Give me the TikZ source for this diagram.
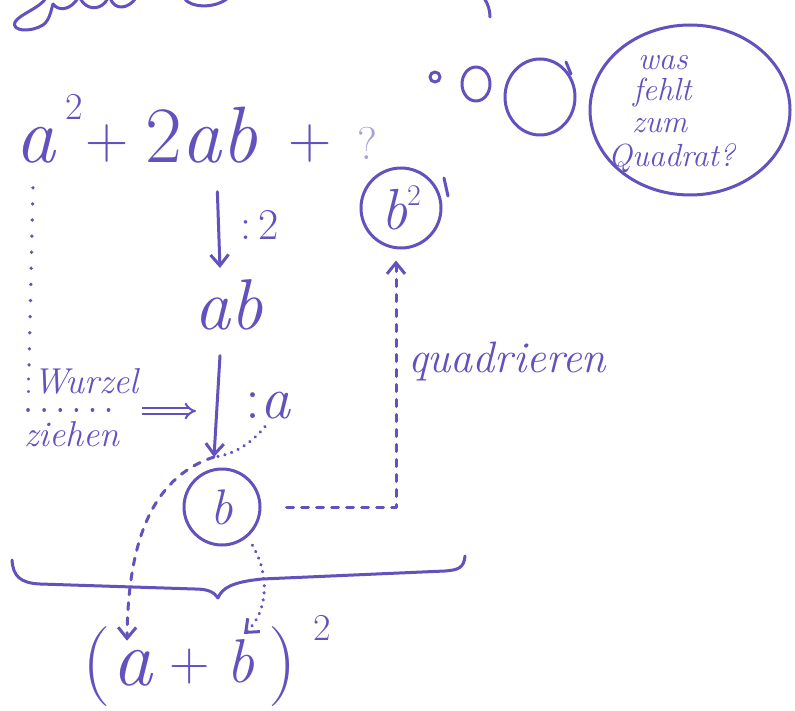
\documentclass[tikz,border=0pt]{standalone}
\usetikzlibrary{arrows.meta,calc}
\definecolor{ink}{RGB}{98,82,190}
\newcommand\hwsize[1]{\fontsize{#1}{#1}\selectfont}
\begin{document}
\begin{tikzpicture}[x=1pt,y=-1pt,
  hw/.style={text=ink, inner sep=0pt, outer sep=0pt},
  pen/.style={draw=ink, line width=3pt, line cap=round, line join=round},
  sparse/.style={pen, line width=3.6pt, dash pattern=on 0.1pt off 16pt},
  dots/.style={pen, line width=3.4pt, dash pattern=on 0.1pt off 7pt},
  dashes/.style={pen, line width=3pt, dash pattern=on 7pt off 8pt},
  arr/.style={-{Straight Barb[length=11pt,width=18pt,line width=3pt]}},
  ring/.style={circle, draw=ink, line width=3pt, text=ink, inner sep=0pt}]
\useasboundingbox (0,0) rectangle (795,711);
\fill[white] (0,0) rectangle (795,711);
\clip (0,0) rectangle (795,711);

% cut-off handwriting at the top edge
\draw[pen] (46,-2) .. controls (40,8) and (20,14) .. (15,22) .. controls (11,31) and (30,33) .. (43,25) .. controls (50,20) and (51,10) .. (53,4);
\draw[pen] (53,4) .. controls (58,11) and (70,11) .. (78,-2);
\draw[pen] (80,-2) .. controls (86,11) and (102,11) .. (108,-2);
\draw[pen] (110,-2) .. controls (115,11) and (128,9) .. (136,-2);
\draw[pen] (184,-2) .. controls (190,8) and (215,9) .. (228,-2);
\draw[pen] (484,-2) .. controls (488,4) and (490,10) .. (490,17);

% main expression
\node[hw, anchor=base west, font=\hwsize{80}\itshape] (aa) at (15,163) {a};
\node[hw, anchor=base west, font=\hwsize{38}] (sq1) at (65,120) {2};
\node[hw, font=\hwsize{60}] (pl1) at (107,144) {+};
\node[hw, anchor=base west, font=\hwsize{80}] (tab) at (145,163) {2\textit{ab}};
\node[hw, font=\hwsize{60}] (pl2) at (310,144) {+};
\node[hw, anchor=base west, font=\hwsize{46}, text=ink!55] (qm) at (357,160) {?};

% thought bubbles
\draw[pen] (435,77) circle[radius=5pt];
\draw[pen] (476,84) ellipse[x radius=14pt, y radius=17pt];
\draw[pen] (540,97) ellipse[x radius=35pt, y radius=38pt];
\draw[pen] (566,62) -- (571,74);
\draw[pen] (690,110) ellipse[x radius=100pt, y radius=85pt];
\node[hw, anchor=base west, font=\hwsize{32}\itshape] (bw1) at (638,70) {was};
\node[hw, anchor=base west, font=\hwsize{32}\itshape] (bw2) at (633,101) {fehlt};
\node[hw, anchor=base west, font=\hwsize{32}\itshape] (bw3) at (632,133) {zum};
\node[hw, anchor=base west, font=\hwsize{32}\itshape] (bw4) at (608,167) {Quadrat?};

% left labels
\node[hw, anchor=base west, font=\hwsize{36}] (wz) at (24,393) {:\textit{Wurzel}};
\node[hw, anchor=base west, font=\hwsize{36}\itshape] (zh) at (24,446) {ziehen};

% middle column
\node[hw, anchor=base, font=\hwsize{72}\itshape] (ab) at (229,330) {ab};
\node[hw, anchor=base west, font=\hwsize{44}] (d2) at (240,240) {:\,2};
\node[hw, anchor=base west, font=\hwsize{60}] (da) at (245,418) {:\textit{a}};
\node[ring, minimum size=76pt, font=\hwsize{50}\itshape] (bn) at (222,507) {b};
\node[ring, minimum size=80pt] (b2) at (401,208) {\hwsize{58}\itshape b\raisebox{24pt}{\hwsize{30}\upshape 2}};
\draw[pen] (444,178) -- (448,196);
\node[hw, anchor=base west, font=\hwsize{44}\itshape] (qd) at (408,372) {quadrieren};

% result
\node[hw, anchor=base west, font=\hwsize{80}] (lp) at (82,686) {(};
\node[hw, anchor=base west, font=\hwsize{80}\itshape] (a1) at (112,685) {a};
\node[hw, font=\hwsize{56}] (pl3) at (190,667) {+};
\node[hw, anchor=base west, font=\hwsize{62}\itshape] (b1) at (226,682) {b};
\node[hw, anchor=base west, font=\hwsize{80}] (rp) at (268,686) {)};
\node[hw, anchor=base west, font=\hwsize{38}] (sq2) at (313,640) {2};

% connectors
\coordinate (tipb) at (214,457);
\coordinate (dst) at (142,411);
\coordinate (dend) at (196,411);
\draw[sparse] ($(aa.south west)+(18,24)$) -- ($(wz.north west)+(5,0)$);
\draw[sparse] ($(wz.base west)+(4,17)$) -- ++(96,0);
\draw[draw=ink, line width=2pt, double=white, double distance=3.5pt, -{Implies}] (dst) -- (dend);
\draw[pen, arr] ($(tab.south)+(16,28)$) -- ($(ab.north)+(-9,-12)$);
\draw[pen, arr] ($(ab.south)+(-9,25)$) -- (tipb);
\draw[dots] ($(da.south west)+(20,8)$) .. controls (250,445) and (232,455) .. (tipb);
\draw[dashes, arr] (tipb) .. controls (150,478) and (128,545) .. ($(a1.north)+(-5,-9)$);
\draw[dashes, arr] ([xshift=25pt]bn.east) -| ([xshift=-5pt, yshift=-11pt]b2.south);
\draw[dots, arr] ($(bn.-50)+(5,8)$) .. controls (270,575) and (268,612) .. ($(b1.north)+(4,-5)$);

% brace
\draw[pen] (12,560) .. controls (13,576) and (20,583) .. (40,584) -- (195,589) .. controls (208,589) and (214,592) .. (218,598) .. controls (222,588) and (232,582) .. (262,579) -- (445,571) .. controls (458,570) and (464,568) .. (465,556);
\end{tikzpicture}
\end{document}
